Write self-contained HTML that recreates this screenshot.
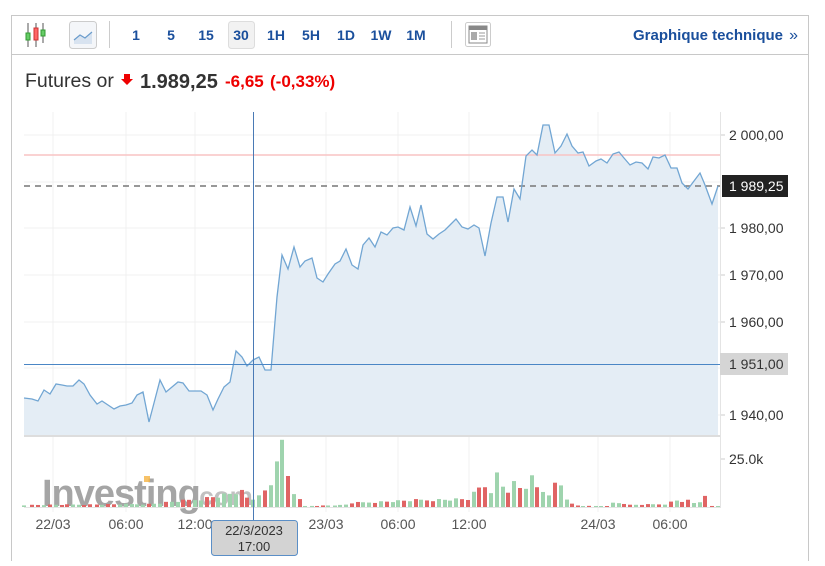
<!DOCTYPE html>
<html><head><meta charset="utf-8"><style>
body{margin:0;background:#fff;width:825px;height:561px;overflow:hidden;font-family:"Liberation Sans",Arial,sans-serif}
</style></head><body>
<svg width="825" height="561" xmlns="http://www.w3.org/2000/svg" font-family="Liberation Sans, Arial, sans-serif">
<rect x="11.5" y="15.5" width="797" height="560" fill="#fff" stroke="#c8c8c8"/>
<line x1="11" y1="54.5" x2="808" y2="54.5" stroke="#c8c8c8"/>
<g>
<line x1="28" y1="23" x2="28" y2="47" stroke="#555"/><rect x="26" y="33" width="4" height="7" fill="#6c6" stroke="#393"/>
<line x1="36" y1="23" x2="36" y2="47" stroke="#555"/><rect x="34" y="28" width="4" height="12" fill="#f66" stroke="#c33"/>
<line x1="43" y1="23" x2="43" y2="43" stroke="#555"/><rect x="41" y="30" width="4" height="6" fill="#6c6" stroke="#393"/>
</g>
<rect x="69.5" y="21.5" width="27" height="27" rx="3" fill="#f4f6f9" stroke="#ccc"/>
<path d="M74 40 L80 35 L85 38 L92 32 L92 44 L74 44Z" fill="#d8e3f0"/>
<path d="M74 40 L80 35 L85 38 L92 32" fill="none" stroke="#6a9ccc" stroke-width="1.2"/>
<line x1="109.5" y1="21" x2="109.5" y2="48" stroke="#ccc"/>
<rect x="228.5" y="21.5" width="26" height="27" rx="3" fill="#f2f2f2" stroke="#ddd"/>
<g font-size="14" font-weight="bold" fill="#1a4f9c" text-anchor="middle">
<text x="136" y="40">1</text><text x="171" y="40">5</text><text x="206" y="40">15</text><text x="241" y="40">30</text>
<text x="276" y="40">1H</text><text x="311" y="40">5H</text><text x="346" y="40">1D</text><text x="381" y="40">1W</text><text x="416" y="40">1M</text>
</g>
<line x1="451.5" y1="21" x2="451.5" y2="48" stroke="#ccc"/>
<rect x="465.5" y="22.5" width="25" height="24" rx="2" fill="#fff" stroke="#ccc"/>
<rect x="469" y="26" width="18" height="17" fill="#fff" stroke="#888"/>
<rect x="469" y="26" width="18" height="4" fill="#888"/>
<rect x="471" y="32" width="6" height="8" fill="#aaa"/>
<line x1="479" y1="33" x2="485" y2="33" stroke="#999"/><line x1="479" y1="36" x2="485" y2="36" stroke="#999"/><line x1="479" y1="39" x2="485" y2="39" stroke="#999"/>
<text x="783" y="40" font-size="15" font-weight="bold" fill="#1a4f9c" text-anchor="end">Graphique technique</text>
<text x="798" y="40" font-size="16" fill="#1a4f9c" text-anchor="end">»</text>
<text x="25" y="87" font-size="19.5" fill="#333">Futures or</text>
<path d="M124 74 h6 v5 h3 l-6 6 l-6 -6 h3z" fill="#e00"/>
<text x="140" y="88" font-size="20" font-weight="bold" fill="#333">1.989,25</text>
<text x="225" y="87" font-size="17" font-weight="bold" fill="#e00">-6,65</text>
<text x="270" y="87" font-size="17" font-weight="bold" fill="#e00">(-0,33%)</text>
<g stroke="#f0f0f0">
<line x1="24" y1="135" x2="720" y2="135"/><line x1="24" y1="182" x2="720" y2="182"/><line x1="24" y1="228" x2="720" y2="228"/>
<line x1="24" y1="275" x2="720" y2="275"/><line x1="24" y1="322" x2="720" y2="322"/><line x1="24" y1="368" x2="720" y2="368"/><line x1="24" y1="415" x2="720" y2="415"/>
<line x1="53" y1="112" x2="53" y2="512"/><line x1="126" y1="112" x2="126" y2="512"/><line x1="195" y1="112" x2="195" y2="512"/>
<line x1="326" y1="112" x2="326" y2="512"/><line x1="398" y1="112" x2="398" y2="512"/><line x1="469" y1="112" x2="469" y2="512"/>
<line x1="598" y1="112" x2="598" y2="512"/><line x1="670" y1="112" x2="670" y2="512"/>
</g>
<path id="area" fill="#e4edf5"/>
<line x1="24" y1="155" x2="720" y2="155" stroke="#f8c4c4" stroke-width="1.5"/>
<line x1="24" y1="186" x2="720" y2="186" stroke="#777" stroke-width="1.5" stroke-dasharray="6,5"/>
<path id="line" fill="none" stroke="#72a6d3" stroke-width="1.3"/>
<line x1="24" y1="364.5" x2="720" y2="364.5" stroke="#4a86c5"/>
<line x1="24" y1="436" x2="720" y2="436" stroke="#ddd" stroke-width="2"/>
<line x1="720.5" y1="112" x2="720.5" y2="508" stroke="#e4e4e4"/>
<text x="42" y="506" font-size="38" font-weight="bold" fill="#888" opacity="0.75" letter-spacing="-1">Investing</text>
<text x="192" y="505" font-size="26" font-weight="bold" fill="#999" opacity="0.6">.com</text>
<rect x="144" y="476" width="6" height="6" fill="#f5b342" opacity="0.8"/>
<g id="vol"></g>
<line x1="24" y1="507.5" x2="720" y2="507.5" stroke="#e4e4e4"/>
<line x1="253.5" y1="112" x2="253.5" y2="522" stroke="#4a7ab5"/>
<g font-size="14" fill="#333">
<text x="729" y="140">2 000,00</text><text x="729" y="233">1 980,00</text><text x="729" y="280">1 970,00</text>
<text x="729" y="327">1 960,00</text><text x="729" y="420">1 940,00</text><text x="729" y="464">25.0k</text>
</g>
<g stroke="#ccc"><line x1="721" y1="135" x2="725" y2="135"/><line x1="721" y1="228" x2="725" y2="228"/><line x1="721" y1="275" x2="725" y2="275"/><line x1="721" y1="322" x2="725" y2="322"/><line x1="721" y1="415" x2="725" y2="415"/><line x1="721" y1="459" x2="725" y2="459"/></g>
<rect x="722" y="175" width="66" height="22" fill="#222"/>
<text x="729" y="191" font-size="14" fill="#fff">1 989,25</text>
<rect x="720" y="353" width="68" height="22" fill="#d5d5d5"/>
<text x="729" y="369" font-size="14" fill="#333">1 951,00</text>
<g font-size="14" fill="#555" text-anchor="middle">
<text x="53" y="529">22/03</text><text x="126" y="529">06:00</text><text x="195" y="529">12:00</text>
<text x="326" y="529">23/03</text><text x="398" y="529">06:00</text><text x="469" y="529">12:00</text>
<text x="598" y="529">24/03</text><text x="670" y="529">06:00</text>
</g>
<rect x="211.5" y="520.5" width="86" height="35" rx="3" fill="#d3d3d3" stroke="#5b8fc7"/>
<text x="254" y="535" font-size="13" fill="#333" text-anchor="middle">22/3/2023</text>
<text x="254" y="551" font-size="13" fill="#333" text-anchor="middle">17:00</text>
<line x1="808.5" y1="54" x2="808.5" y2="561" stroke="#c8c8c8"/>
</svg>
<script>
var P=[[24,398],[32,399],[38,401],[44,390],[50,394],[56,384],[62,385],[67,386],[73,386],[79,380],[84,384],[90,395],[97,404],[102,401],[108,405],[114,409],[120,406],[126,405],[132,403],[137,395],[143,392],[149,422],[154,403],[160,380],[166,392],[172,387],[178,382],[183,383],[189,391],[195,391],[201,391],[207,395],[213,410],[218,399],[224,387],[230,382],[236,351],[242,357],[247,366],[253,360],[259,357],[265,370],[271,370],[277,297],[282,255],[288,269],[294,247],[300,267],[305,261],[312,258],[317,278],[323,282],[328,274],[335,264],[340,261],[346,249],[352,265],[358,269],[363,245],[369,238],[375,247],[381,232],[387,235],[393,228],[398,227],[404,230],[410,207],[416,226],[421,205],[427,234],[433,239],[439,234],[445,230],[450,225],[456,219],[462,227],[468,229],[474,225],[479,228],[485,256],[491,223],[497,197],[503,197],[508,222],[514,189],[520,199],[526,156],[532,150],[537,155],[543,125],[549,125],[555,153],[561,146],[567,134],[572,146],[578,153],[583,152],[589,166],[596,161],[601,159],[607,163],[613,154],[619,152],[624,158],[630,165],[636,162],[642,163],[648,169],[653,157],[659,158],[665,155],[671,168],[677,168],[682,183],[688,189],[694,181],[700,173],[705,185],[712,204],[718,186]];
var d=P.map(function(p,i){return(i?'L':'M')+p[0]+' '+p[1]}).join(' ');
document.getElementById('line').setAttribute('d',d);
document.getElementById('area').setAttribute('d',d+' L718 435 L24 435 Z');
var A=[[24,2],[150,3],[200,8],[235,14],[240,17],[247,9],[253,8],[263,19],[269,8],[275,52],[282,60],[287,34],[293,16],[299,8],[305,1],[345,2],[350,4],[420,7],[470,8],[477,17],[484,23],[490,14],[496,34],[502,22],[508,17],[513,24],[519,19],[525,19],[531,29],[537,19],[542,17],[548,13],[554,22],[560,25],[566,10],[572,3],[580,1],[607,1],[612,4],[623,4],[628,2],[667,3],[675,7],[682,6],[687,7],[693,4],[699,4],[704,11],[711,1]];
function H(x){for(var i=0;i<A.length-1;i++){if(x>=A[i][0]&&x<=A[i+1][0]){var t=(x-A[i][0])/(A[i+1][0]-A[i][0]);return A[i][1]+t*(A[i+1][1]-A[i][1]);}}return 1;}
var g='';
for(var i=0;i<P.length;i++){var x=P[i][0],h=H(x)*(0.8+0.4*((i*37)%10)/10);if(h<1)h=1;
var up=i>0?P[i][1]<=P[i-1][1]:true;
g+='<rect x="'+(x-2)+'" y="'+(507-h)+'" width="4" height="'+h+'" fill="'+(up?'#9fd4ae':'#e06464')+'"/>';}
document.getElementById('vol').innerHTML=g;
</script>
</body></html>
